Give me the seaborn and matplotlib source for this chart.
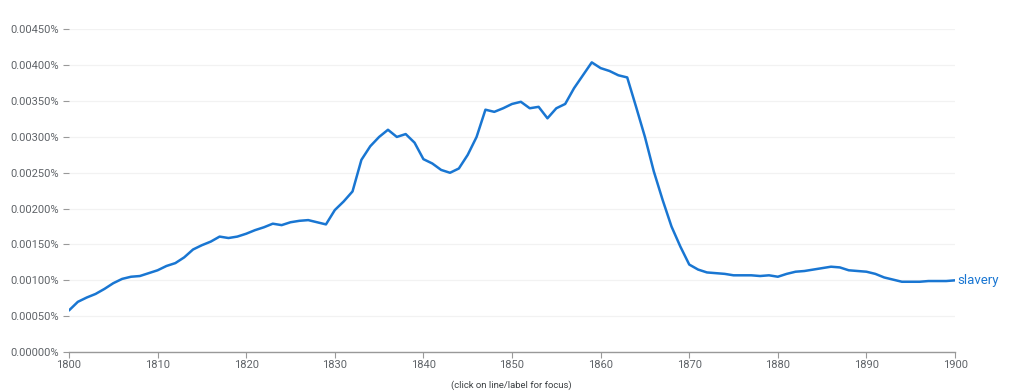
import matplotlib
matplotlib.use("Agg")
import matplotlib.pyplot as plt
import seaborn as sns
import pandas as pd
from matplotlib.ticker import FuncFormatter, MultipleLocator

years = list(range(1800, 1901))
slavery = [
    0.00058, 0.00070, 0.00076, 0.00081, 0.00088, 0.00096, 0.00102, 0.00105, 0.00106, 0.00110,
    0.00114, 0.00120, 0.00124, 0.00132, 0.00143, 0.00149, 0.00154, 0.00161, 0.00159, 0.00161,
    0.00165, 0.00170, 0.00174, 0.00179, 0.00177, 0.00181, 0.00183, 0.00184, 0.00181, 0.00178,
    0.00198, 0.00210, 0.00224, 0.00268, 0.00287, 0.00300, 0.00310, 0.00300, 0.00304, 0.00292,
    0.00269, 0.00263, 0.00254, 0.00250, 0.00256, 0.00275, 0.00300, 0.00338, 0.00335, 0.00340,
    0.00346, 0.00349, 0.00340, 0.00342, 0.00326, 0.00340, 0.00346, 0.00368, 0.00386, 0.00404,
    0.00396, 0.00392, 0.00386, 0.00383, 0.00342, 0.00300, 0.00252, 0.00212, 0.00175, 0.00147,
    0.00122, 0.00115, 0.00111, 0.00110, 0.00109, 0.00107, 0.00107, 0.00107, 0.00106, 0.00107,
    0.00105, 0.00109, 0.00112, 0.00113, 0.00115, 0.00117, 0.00119, 0.00118, 0.00114, 0.00113,
    0.00112, 0.00109, 0.00104, 0.00101, 0.00098, 0.00098, 0.00098, 0.00099, 0.00099, 0.00099,
    0.00100,
]
series_label = "slavery"
footer = "(click on line/label for focus)"

sns.set_theme(style="white")
plt.rcParams['font.family'] = ['Roboto', 'DejaVu Sans']

df = pd.DataFrame({"year": years, "value": slavery})

fig = plt.figure(figsize=(10.22, 3.92), dpi=100)
ax = fig.add_axes([0.0675, 0.102, 0.867, 0.823])

blue = "#1976d2"
sns.lineplot(data=df, x="year", y="value", ax=ax, color=blue, linewidth=1.8)

ax.set_xlim(1800, 1900)
ax.set_ylim(0, 0.0045)
ax.yaxis.set_major_locator(MultipleLocator(0.0005))
ax.xaxis.set_major_locator(MultipleLocator(10))
ax.yaxis.set_major_formatter(FuncFormatter(lambda v, p: f"{v:.5f}%"))
ax.xaxis.set_major_formatter(FuncFormatter(lambda v, p: f"{int(round(v))}"))

ax.grid(axis="y", color="#f2f2f2", linewidth=0.9)
ax.grid(axis="x", visible=False)
for s in ["top", "right", "left"]:
    ax.spines[s].set_visible(False)
ax.spines["bottom"].set_color("#999999")
ax.spines["bottom"].set_linewidth(1.0)

ax.tick_params(axis="y", which="major", left=True, length=4, width=0.8, color="#999999",
               labelsize=8, labelcolor="#5f6368", pad=3)
ax.tick_params(axis="x", which="major", bottom=True, length=4, width=0.8, color="#999999",
               labelsize=8, labelcolor="#5f6368", pad=2)
ax.set_xlabel("")
ax.set_ylabel("")

ax.text(1900.3, slavery[-1], series_label, color=blue, fontsize=9.5, va="center", ha="left",
        clip_on=False)
fig.text(0.5, 0.018, footer, ha="center", va="center", fontsize=6.8, color="#3c4043")

fig.savefig("out.png", dpi=100)
